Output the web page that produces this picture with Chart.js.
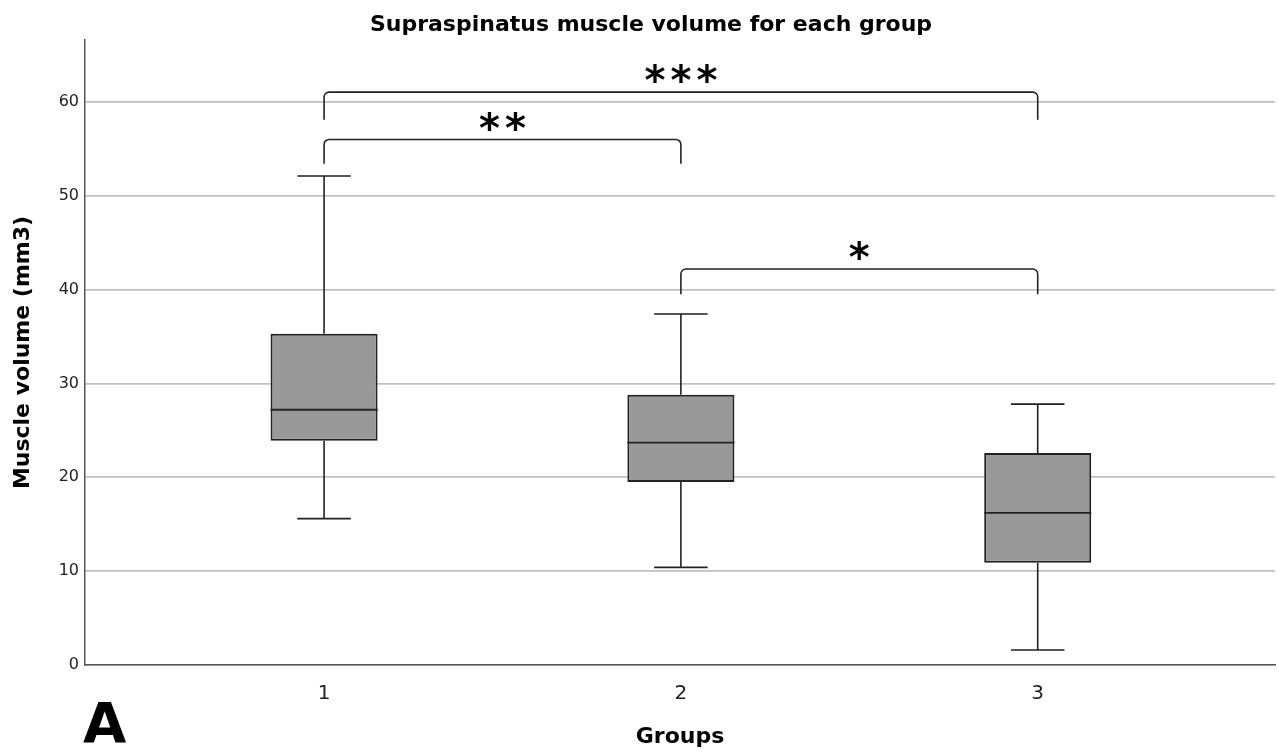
<!DOCTYPE html>
<html>
<head>
<meta charset="utf-8">
<script src="https://cdn.jsdelivr.net/npm/chart.js@4"></script>
<style>
  html, body { margin: 0; padding: 0; background: #fff; }
  #wrap { width: 1279px; height: 755px; }
</style>
</head>
<body>
<div id="wrap"><canvas id="chart"></canvas></div>
<script>
// box plot values
const groups = ['1', '2', '3'];
const groupPos = [1, 2, 3];
const whiskerLow = [15.6, 10.4, 1.6];
const q1 = [23.9, 19.5, 10.9];
const median = [27.2, 23.7, 16.2];
const q3 = [35.3, 28.8, 22.6];
const whiskerHigh = [52.1, 37.4, 27.8];
const yTicks = [0, 10, 20, 30, 40, 50, 60];

// significance brackets
const sigFrom = [1, 1, 2];
const sigTo = [3, 2, 3];
const sigTop = [61.05, 56.0, 42.2];
const sigEnd = [58.1, 53.4, 39.5];
const sigLabels = ['***', '**', '*'];

const FONT = "'DejaVu Sans', sans-serif";
const INK = '#222';

const boxExtras = {
    id: 'boxExtras',
    beforeDatasetsDraw(chart) {
        const { ctx, scales: { x, y } } = chart;
        ctx.save();
        ctx.strokeStyle = INK;
        ctx.lineWidth = 1.6;
        groupPos.forEach((g, i) => {
            const px = x.getPixelForValue(g);
            const capW = x.getPixelForValue(g + 0.075) - px;
            ctx.beginPath();
            ctx.moveTo(px, y.getPixelForValue(q3[i]));
            ctx.lineTo(px, y.getPixelForValue(whiskerHigh[i]));
            ctx.moveTo(px - capW, y.getPixelForValue(whiskerHigh[i]));
            ctx.lineTo(px + capW, y.getPixelForValue(whiskerHigh[i]));
            ctx.moveTo(px, y.getPixelForValue(q1[i]));
            ctx.lineTo(px, y.getPixelForValue(whiskerLow[i]));
            ctx.moveTo(px - capW, y.getPixelForValue(whiskerLow[i]));
            ctx.lineTo(px + capW, y.getPixelForValue(whiskerLow[i]));
            ctx.stroke();
        });
        ctx.restore();
    },
    afterDatasetsDraw(chart) {
        const { ctx, scales: { x, y } } = chart;
        const bars = chart.getDatasetMeta(0).data;
        ctx.save();
        ctx.strokeStyle = INK;
        ctx.lineWidth = 1.8;
        // medians
        groupPos.forEach((g, i) => {
            const half = bars[i].width / 2;
            const px = x.getPixelForValue(g);
            const py = y.getPixelForValue(median[i]);
            ctx.beginPath();
            ctx.moveTo(px - half, py);
            ctx.lineTo(px + half, py);
            ctx.stroke();
        });
        // brackets
        const r = 5;
        ctx.lineWidth = 1.6;
        ctx.fillStyle = '#000';
        ctx.font = 'bold 40px ' + FONT;
        ctx.textAlign = 'center';
        ctx.textBaseline = 'bottom';
        sigLabels.forEach((lab, i) => {
            const x1 = x.getPixelForValue(sigFrom[i]);
            const x2 = x.getPixelForValue(sigTo[i]);
            const yt = y.getPixelForValue(sigTop[i]);
            const yb = y.getPixelForValue(sigEnd[i]);
            ctx.beginPath();
            ctx.moveTo(x1, yb);
            ctx.lineTo(x1, yt + r);
            ctx.arcTo(x1, yt, x1 + r, yt, r);
            ctx.lineTo(x2 - r, yt);
            ctx.arcTo(x2, yt, x2, yt + r, r);
            ctx.lineTo(x2, yb);
            ctx.stroke();
            const mid = (x1 + x2) / 2;
            const step = 26;
            for (let k = 0; k < lab.length; k++) {
                ctx.fillText(lab[k], mid + (k - (lab.length - 1) / 2) * step, yt + 12);
            }
        });
        ctx.restore();
    },
    afterDraw(chart) {
        const { ctx } = chart;
        ctx.save();
        ctx.fillStyle = '#000';
        ctx.font = 'bold 22px ' + FONT;
        ctx.textAlign = 'center';
        ctx.textBaseline = 'middle';
        ctx.fillText('Supraspinatus muscle volume for each group', 651, 25);
        ctx.font = 'bold 56px ' + FONT;
        ctx.textAlign = 'left';
        ctx.textBaseline = 'alphabetic';
        ctx.fillText('A', 83, 742);
        ctx.restore();
    }
};

new Chart(document.getElementById('chart'), {
    type: 'bar',
    data: {
        datasets: [{
            label: 'Muscle volume',
            data: groupPos.map((g, i) => ({ x: g, y: [q1[i], q3[i]] })),
            backgroundColor: '#999999',
            borderColor: INK,
            borderWidth: 2,
            borderSkipped: false,
            barPercentage: 0.3,
            categoryPercentage: 1,
        }],
    },
    options: {
        responsive: true,
        maintainAspectRatio: false,
        animation: false,
        layout: { padding: { top: 40, right: 4, left: 0, bottom: 0 } },
        plugins: {
            legend: { display: false },
            tooltip: { enabled: false },
        },
        scales: {
            x: {
                type: 'linear',
                offset: false,
                min: 0.33,
                max: 3.665,
                afterBuildTicks: (scale) => { scale.ticks = groupPos.map(v => ({ value: v })); },
                afterFit: (scale) => { scale.height = 90; scale.paddingLeft = 0; scale.paddingRight = 0; },
                grid: { display: false, offset: false },
                border: { display: true, color: '#555', width: 1.5 },
                ticks: {
                    color: INK,
                    font: { family: FONT, size: 20 },
                    padding: 9,
                    callback: (v) => groups[groupPos.indexOf(v)],
                },
                title: {
                    display: true,
                    text: 'Groups',
                    color: '#000',
                    font: { family: FONT, size: 22, weight: 'bold' },
                    padding: { top: 0, bottom: 5 },
                },
            },
            y: {
                min: 0,
                max: 66.6,
                afterBuildTicks: (scale) => { scale.ticks = yTicks.map(v => ({ value: v })); },
                afterFit: (scale) => { scale.width = 85; scale.paddingTop = 0; scale.paddingBottom = 0; },
                grid: { color: '#c0c0c0', lineWidth: 1.8, drawTicks: false },
                border: { display: true, color: '#555', width: 1.5 },
                ticks: {
                    color: INK,
                    font: { family: FONT, size: 16 },
                    padding: 6,
                },
                title: {
                    display: true,
                    text: 'Muscle volume (mm3)',
                    color: '#000',
                    font: { family: FONT, size: 22, weight: 'bold' },
                    padding: { top: 10, bottom: 0 },
                },
            },
        },
    },
    plugins: [boxExtras],
});
</script>
</body>
</html>
